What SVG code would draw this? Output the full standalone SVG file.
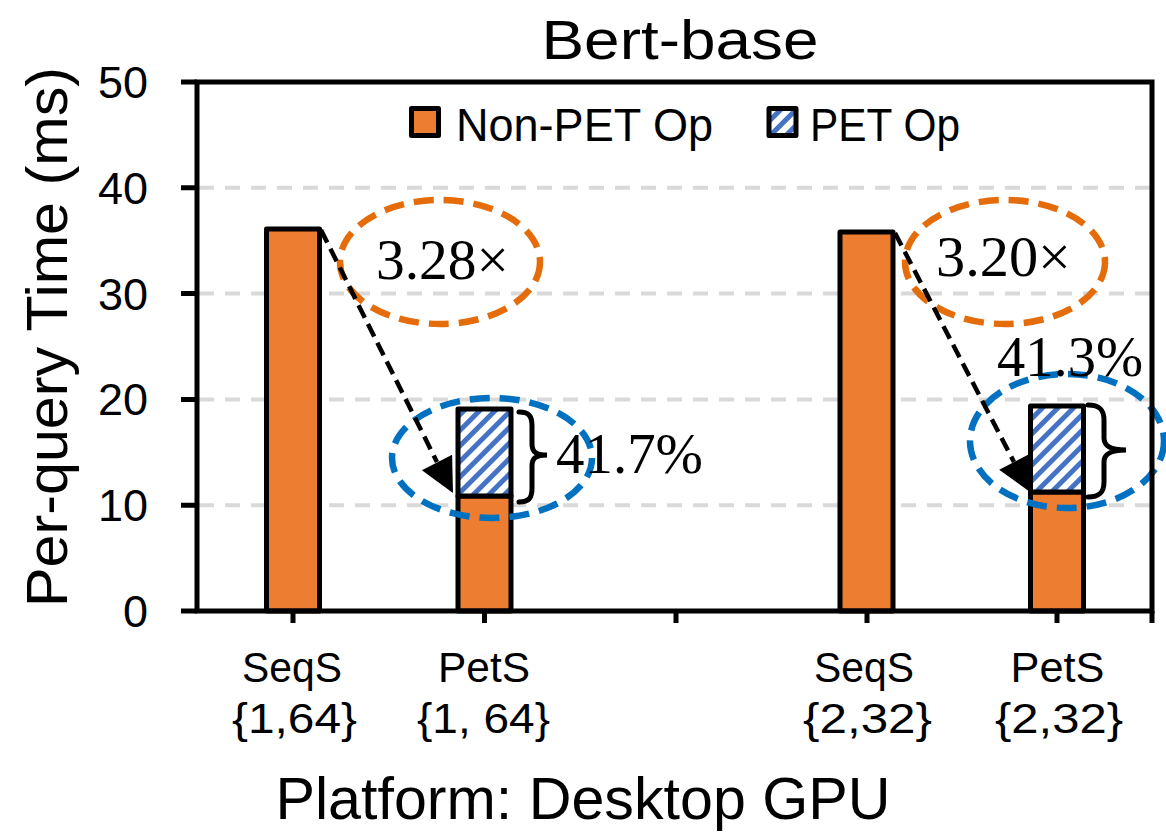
<svg xmlns="http://www.w3.org/2000/svg" width="1166" height="838" viewBox="0 0 1166 838">
  <style>
    .sans { font-family: "Liberation Sans", Arial, sans-serif; fill: #000; }
    .serif { font-family: "Liberation Serif", "Times New Roman", serif; fill: #000; }
    .grid { stroke: #d9d9d9; stroke-width: 4; stroke-dasharray: 15 11; fill: none; }
    .bar { stroke: #000; stroke-width: 5; stroke-linejoin: round; }
    .orange { fill: #ED7D31; }
    .pet { fill: url(#hatch); }
    .ring-o { fill: none; stroke: #E46C0A; stroke-width: 6.5; stroke-dasharray: 20 10; }
    .ring-b { fill: none; stroke: #0070C0; stroke-width: 6.5; stroke-dasharray: 20 10; }
    .arrow { stroke: #000; stroke-width: 4.5; stroke-dasharray: 14 7; fill: none; }
    .brace { stroke: #000; stroke-width: 5; fill: none; stroke-linecap: round; }
    .axis { stroke: #000; stroke-width: 5; fill: none; }
  </style>
  <defs>
    <pattern id="hatch" width="11" height="11" patternUnits="userSpaceOnUse" patternTransform="rotate(45)">
      <rect width="11" height="11" fill="#fff"/>
      <rect width="5" height="11" fill="#4472C4"/>
    </pattern>
  </defs>
  <rect width="1166" height="838" fill="#fff"/>

  <!-- horizontal gridlines at 10, 20, 30, 40 ms -->
  <g id="gridlines">
    <line class="grid" x1="199" y1="505.2" x2="1150" y2="505.2"/>
    <line class="grid" x1="199" y1="399.4" x2="1150" y2="399.4"/>
    <line class="grid" x1="199" y1="293.6" x2="1150" y2="293.6"/>
    <line class="grid" x1="199" y1="187.8" x2="1150" y2="187.8"/>
  </g>

  <!-- bars -->
  <g id="bar-seqs-1">
    <rect class="bar orange" x="266.5" y="229" width="53" height="382"/>
  </g>
  <g id="bar-pets-1">
    <rect class="bar orange" x="458" y="496" width="53" height="115"/>
    <rect class="bar pet" x="458" y="409" width="53" height="87"/>
  </g>
  <g id="bar-seqs-2">
    <rect class="bar orange" x="840" y="232" width="53" height="379"/>
  </g>
  <g id="bar-pets-2">
    <rect class="bar orange" x="1030.5" y="492" width="53" height="119"/>
    <rect class="bar pet" x="1030.5" y="406" width="53" height="86"/>
  </g>

  <!-- highlight rings -->
  <g id="ring-speedup-1"><ellipse class="ring-o" cx="440" cy="262" rx="100" ry="62"/></g>
  <g id="ring-speedup-2"><ellipse class="ring-o" cx="1005" cy="262" rx="100" ry="62"/></g>
  <g id="ring-pets-1"><ellipse class="ring-b" cx="492" cy="458" rx="100" ry="60"/></g>
  <g id="ring-pets-2"><ellipse class="ring-b" cx="1067" cy="441" rx="97" ry="67"/></g>

  <!-- dashed arrows and braces -->
  <g id="connectors">
    <line class="arrow" x1="321" y1="230" x2="437" y2="462"/>
    <polygon points="453,493 421.9,470.3 452.1,454.7" fill="#000"/>
    <line class="arrow" x1="895" y1="233" x2="1014" y2="462"/>
    <polygon points="1030,492 999.2,469.7 1029.4,454" fill="#000"/>
    <path class="brace" d="M519,412 C529,412 532,416 532,426 L532,444 C532,452 536,455 547,455 C536,455 532,458 532,466 L532,488 C532,498 529,502 519,502"/>
    <path class="brace" d="M1088,405 C1100,405 1104,410 1104,420 L1104,438 C1104,446 1110,450 1126,450 C1110,450 1104,454 1104,462 L1104,482 C1104,492 1100,497 1088,497"/>
  </g>

  <!-- plot frame with ticks -->
  <g id="axes">
    <rect class="axis" x="197" y="82" width="955" height="529"/>
    <path class="axis" d="M181,82 H197 M181,187.8 H197 M181,293.6 H197 M181,399.4 H197 M181,505.2 H197 M181,611 H197"/>
    <path class="axis" d="M293,611 V623 M484.5,611 V623 M676,611 V623 M867,611 V623 M1057,611 V623 M1152,611 V623"/>
  </g>

  <!-- annotation values -->
  <g id="labels-annot">
    <text class="serif" x="376" y="279" font-size="57" textLength="133" lengthAdjust="spacingAndGlyphs">3.28×</text>
    <text class="serif" x="936" y="276" font-size="57" textLength="135" lengthAdjust="spacingAndGlyphs">3.20×</text>
    <text class="serif" x="556" y="473" font-size="57" textLength="147" lengthAdjust="spacingAndGlyphs">41.7%</text>
    <text class="serif" x="997" y="376" font-size="57" textLength="146" lengthAdjust="spacingAndGlyphs">41.3%</text>
  </g>

  <!-- legend -->
  <g id="legend">
    <rect class="bar orange" x="411.5" y="108.5" width="27" height="27"/>
    <text class="sans" x="456" y="141" font-size="46" textLength="257" lengthAdjust="spacingAndGlyphs">Non-PET Op</text>
    <rect class="bar pet" x="769" y="108.5" width="27" height="27"/>
    <text class="sans" x="810" y="141" font-size="46" textLength="150" lengthAdjust="spacingAndGlyphs">PET Op</text>
  </g>

  <!-- y tick labels -->
  <g id="y-ticks" class="sans" font-size="45" text-anchor="end">
    <text x="148" y="98">50</text>
    <text x="148" y="203.8">40</text>
    <text x="148" y="309.6">30</text>
    <text x="148" y="415.4">20</text>
    <text x="148" y="521.2">10</text>
    <text x="148" y="627">0</text>
  </g>

  <!-- category labels -->
  <g id="x-categories" class="sans" font-size="43" text-anchor="middle">
    <text x="292" y="682" textLength="100" lengthAdjust="spacingAndGlyphs">SeqS</text>
    <text x="294.5" y="733" textLength="125" lengthAdjust="spacingAndGlyphs">{1,64}</text>
    <text x="484" y="682" textLength="92" lengthAdjust="spacingAndGlyphs">PetS</text>
    <text x="483.5" y="733" textLength="133" lengthAdjust="spacingAndGlyphs">{1, 64}</text>
    <text x="864" y="682" textLength="100" lengthAdjust="spacingAndGlyphs">SeqS</text>
    <text x="867.5" y="733" textLength="129" lengthAdjust="spacingAndGlyphs">{2,32}</text>
    <text x="1057.5" y="682" textLength="94" lengthAdjust="spacingAndGlyphs">PetS</text>
    <text x="1059" y="733" textLength="128" lengthAdjust="spacingAndGlyphs">{2,32}</text>
  </g>

  <!-- titles -->
  <g id="titles" class="sans" text-anchor="middle">
    <text x="680" y="59" font-size="56" textLength="277" lengthAdjust="spacingAndGlyphs">Bert-base</text>
    <text x="583" y="819" font-size="60" textLength="615" lengthAdjust="spacingAndGlyphs">Platform: Desktop GPU</text>
    <text transform="translate(67,337) rotate(-90)" font-size="58" textLength="540" lengthAdjust="spacingAndGlyphs">Per-query Time (ms)</text>
  </g>
</svg>
